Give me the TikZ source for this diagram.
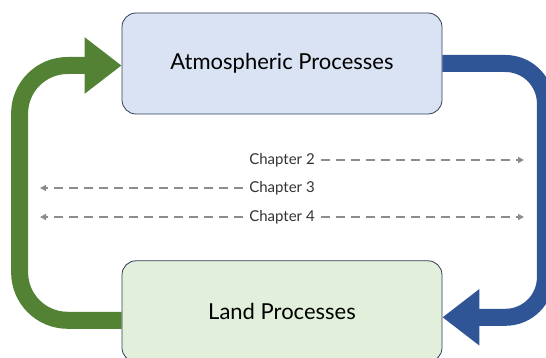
\documentclass[tikz,border=0pt]{standalone}
\usepackage{fontspec}
\setmainfont{Lato}
\usetikzlibrary{positioning,arrows.meta}
\definecolor{atmfill}{HTML}{DAE3F3}
\definecolor{landfill}{HTML}{E2EFDA}
\definecolor{boxline}{HTML}{2F3C58}
\definecolor{greenflow}{HTML}{548235}
\definecolor{blueflow}{HTML}{2F5597}
\definecolor{dashgray}{HTML}{8C8C8C}
\definecolor{chaptext}{HTML}{333333}

\begin{document}
\begin{tikzpicture}[x=1pt,y=-1pt,proc/.style={draw=boxline,line width=0.8pt,rounded corners=14pt,minimum width=320pt,minimum height=101pt,font=\fontsize{22}{26}\selectfont},chap/.style={font=\fontsize{15}{18}\selectfont,text=chaptext,inner xsep=6pt,inner ysep=0pt},link/.style={draw=dashgray,line width=1.6pt,dash pattern=on 9pt off 6pt,-{Triangle[length=6pt,width=6pt]}},flow/.style={line width=17pt,-{Triangle[length=37pt,width=54pt]}}]
\useasboundingbox (0,0) rectangle (546,358);
\node[proc,fill=atmfill] (atm) at (282,63.5) {Atmospheric Processes};
\node[proc,fill=landfill,below=146pt of atm] (land) {Land Processes};

\foreach \n/\y in {2/160,3/188,4/217} {
   \node[chap] (ch\n) at (282,\y) {Chapter \n};
}
\coordinate (r2) at (524,160);
\coordinate (l3) at (40,188);
\coordinate (l4) at (40,217);
\coordinate (r4) at (524,217);
\draw[link] (ch2) -- (r2);
\draw[link] (ch3) -- (l3);
\draw[link] (ch4) -- (l4);
\draw[link] (ch4) -- (r4);

\draw[flow,greenflow,rounded corners=48pt] ([yshift=-9pt]land.west) -- ++(-102,0) |- ([yshift=-2pt]atm.west);
\draw[flow,blueflow,rounded corners=40pt] (atm.east) -- ++(103,0) |- ([yshift=-6pt]land.east);
\end{tikzpicture}
\end{document}
